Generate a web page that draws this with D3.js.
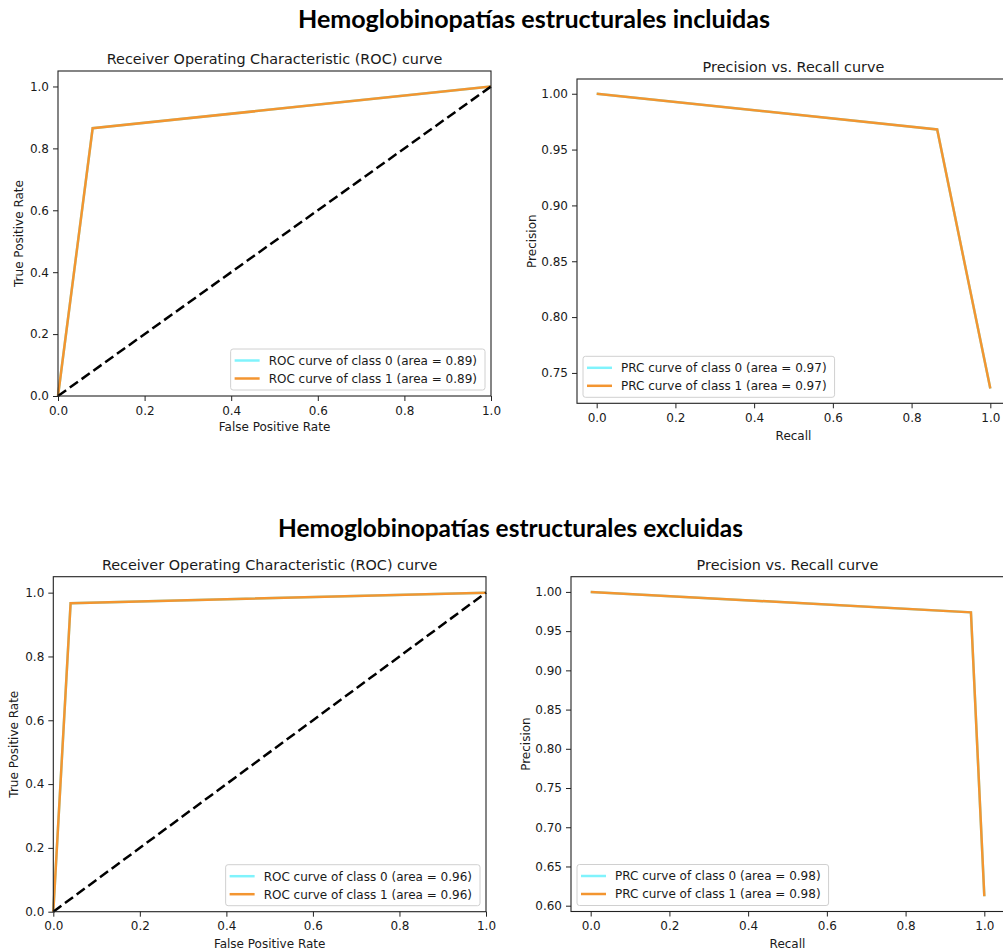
<!DOCTYPE html>
<html>
<head>
<meta charset="utf-8">
<script src="https://cdn.jsdelivr.net/npm/d3@7"></script>
<style>
  html, body { margin: 0; padding: 0; background: #fff; }
  svg { display: block; }
  text { font-family: "DejaVu Sans", sans-serif; fill: #1a1a1a; }
  .suptitle { font-family: Lato, "Open Sans", sans-serif; font-weight: 700; fill: #000; }
</style>
</head>
<body>
<svg id="fig" width="1003" height="952"></svg>
<script>
// ---- data ----
const sectionTitles = ["Hemoglobinopatías estructurales incluidas", "Hemoglobinopatías estructurales excluidas"];
const rocTitle = "Receiver Operating Characteristic (ROC) curve";
const prTitle = "Precision vs. Recall curve";
const classNames = ["class 0", "class 1"];

// with structural haemoglobinopathies
const rocFprIncl = [0, 0.08, 1];
const rocTprIncl = [0, 0.865, 1];
const rocAreaIncl = [0.89, 0.89];
const prRecallIncl = [0, 0.865, 1];
const prPrecisionIncl = [1, 0.968, 0.736];
const prcAreaIncl = [0.97, 0.97];

// without structural haemoglobinopathies
const rocFprExcl = [0, 0.04, 1];
const rocTprExcl = [0, 0.967, 1];
const rocAreaExcl = [0.96, 0.96];
const prRecallExcl = [0, 0.966, 1];
const prPrecisionExcl = [1, 0.974, 0.612];
const prcAreaExcl = [0.98, 0.98];

// tick values
const unitTicks = [0, 0.2, 0.4, 0.6, 0.8, 1.0];
const prYTicksIncl = [0.75, 0.80, 0.85, 0.90, 0.95, 1.00];
const prYTicksExcl = [0.60, 0.65, 0.70, 0.75, 0.80, 0.85, 0.90, 0.95, 1.00];

const colors = ["#80f3fc", "#f39530"];
const svg = d3.select("#fig");
svg.append("rect").attr("width", 1003).attr("height", 952).attr("fill", "#fff");

// pad a data range by 5% on each side
function autoDomain(vals) {
  const [lo, hi] = d3.extent(vals);
  const m = (hi - lo) * 0.05;
  return [lo - m, hi + m];
}

function drawPanel(p) {
  const g = svg.append("g");
  const x = d3.scaleLinear().domain(p.xDomain).range([p.left, p.right]);
  const y = d3.scaleLinear().domain(p.yDomain).range([p.bottom, p.top]);

  // curves: class 0 drawn first, class 1 on top
  const line = d3.line().x(d => x(d[0])).y(d => y(d[1]));
  const pts = d3.zip(p.xs, p.ys);
  [0, 1].forEach(i => {
    g.append("path").datum(pts).attr("d", line)
      .attr("fill", "none").attr("stroke", colors[i]).attr("stroke-width", 2.5)
      .attr("stroke-linejoin", "miter");
  });
  if (p.diagonal) {
    g.append("path").datum([[0, 0], [1, 1]]).attr("d", line)
      .attr("fill", "none").attr("stroke", "#000").attr("stroke-width", 2.5)
      .attr("stroke-dasharray", "10,4.5");
  }

  // frame
  g.append("rect").attr("x", p.left).attr("y", p.top)
    .attr("width", p.right - p.left).attr("height", p.bottom - p.top)
    .attr("fill", "none").attr("stroke", "#222").attr("stroke-width", 1.1);

  // axes
  const xAxis = d3.axisBottom(x).tickValues(p.xTicks).tickFormat(d3.format(".1f"))
    .tickSize(5).tickPadding(5);
  const yAxis = d3.axisLeft(y).tickValues(p.yTicks).tickFormat(d3.format(p.yFmt))
    .tickSize(5).tickPadding(4);
  const gx = g.append("g").attr("transform", `translate(0,${p.bottom})`).call(xAxis);
  const gy = g.append("g").attr("transform", `translate(${p.left},0)`).call(yAxis);
  [gx, gy].forEach(a => {
    a.select(".domain").remove();
    a.selectAll("line").attr("stroke", "#222");
    a.selectAll("text").style("font-family", "DejaVu Sans").style("font-size", "12px").attr("fill", "#1a1a1a");
  });

  // titles and labels
  const cx = (p.left + p.right) / 2, cy = (p.top + p.bottom) / 2;
  g.append("text").attr("x", cx).attr("y", p.top - 7).attr("text-anchor", "middle")
    .style("font-size", "14.4px").text(p.title);
  g.append("text").attr("x", cx).attr("y", p.bottom + p.xLabelOff).attr("text-anchor", "middle")
    .style("font-size", "12px").text(p.xLabel);
  g.append("text").attr("transform", `translate(${p.yLabelX},${cy}) rotate(-90)`)
    .attr("text-anchor", "middle").style("font-size", "12px").text(p.yLabel);

  // legend
  const labels = classNames.map((c, i) => `${p.legendPrefix} curve of ${c} (area = ${p.areas[i].toFixed(2)})`);
  const lg = g.append("g");
  const texts = labels.map(l => lg.append("text").style("font-size", "12px").text(l));
  const tw = d3.max(texts, t => t.node().getComputedTextLength());
  const bw = 38 + tw + 8, bh = 41;
  const bx = p.legendLoc === "right" ? p.right - 6 - bw : p.left + 6;
  const by = p.bottom - 6 - bh;
  lg.insert("rect", "text").attr("x", bx).attr("y", by).attr("width", bw).attr("height", bh)
    .attr("rx", 2.5).attr("fill", "#fff").attr("fill-opacity", 0.8)
    .attr("stroke", "#d0d0d0").attr("stroke-width", 1);
  texts.forEach((t, i) => {
    const ry = by + 11.5 + i * 18;
    lg.append("line").attr("x1", bx + 4).attr("x2", bx + 29).attr("y1", ry).attr("y2", ry)
      .attr("stroke", colors[i]).attr("stroke-width", 2.5);
    t.attr("x", bx + 38).attr("y", ry + 4.3);
  });
}

// section headings
const headPos = [{x: 534, y: 28, w: 472}, {x: 510.5, y: 536.5, w: 465}];
sectionTitles.forEach((s, i) => {
  const t = svg.append("text").attr("class", "suptitle").attr("x", headPos[i].x).attr("y", headPos[i].y)
    .attr("text-anchor", "middle").style("font-size", "25.5px").text(s);
  t.attr("textLength", headPos[i].w).attr("lengthAdjust", "spacingAndGlyphs");
});

drawPanel({
  left: 58, right: 491, top: 71, bottom: 396,
  xDomain: [0, 1], yDomain: [0, 1.05], xTicks: unitTicks, yTicks: unitTicks, yFmt: ".1f",
  xs: rocFprIncl, ys: rocTprIncl, diagonal: true, areas: rocAreaIncl, legendPrefix: "ROC",
  legendLoc: "right", title: rocTitle, xLabel: "False Positive Rate", yLabel: "True Positive Rate",
  xLabelOff: 35, yLabelX: 22.5
});
drawPanel({
  left: 577, right: 1010, top: 79, bottom: 403.3,
  xDomain: autoDomain(prRecallIncl), yDomain: autoDomain(prPrecisionIncl),
  xTicks: unitTicks, yTicks: prYTicksIncl, yFmt: ".2f",
  xs: prRecallIncl, ys: prPrecisionIncl, diagonal: false, areas: prcAreaIncl, legendPrefix: "PRC",
  legendLoc: "left", title: prTitle, xLabel: "Recall", yLabel: "Precision",
  xLabelOff: 36.5, yLabelX: 535.5
});
drawPanel({
  left: 53.3, right: 486, top: 576.7, bottom: 911.7,
  xDomain: [0, 1], yDomain: [0, 1.05], xTicks: unitTicks, yTicks: unitTicks, yFmt: ".1f",
  xs: rocFprExcl, ys: rocTprExcl, diagonal: true, areas: rocAreaExcl, legendPrefix: "ROC",
  legendLoc: "right", title: rocTitle, xLabel: "False Positive Rate", yLabel: "True Positive Rate",
  xLabelOff: 36.5, yLabelX: 17.5
});
drawPanel({
  left: 571, right: 1004, top: 576.7, bottom: 911.5,
  xDomain: autoDomain(prRecallExcl), yDomain: autoDomain(prPrecisionExcl),
  xTicks: unitTicks, yTicks: prYTicksExcl, yFmt: ".2f",
  xs: prRecallExcl, ys: prPrecisionExcl, diagonal: false, areas: prcAreaExcl, legendPrefix: "PRC",
  legendLoc: "left", title: prTitle, xLabel: "Recall", yLabel: "Precision",
  xLabelOff: 36.5, yLabelX: 529.5
});
</script>
</body>
</html>
